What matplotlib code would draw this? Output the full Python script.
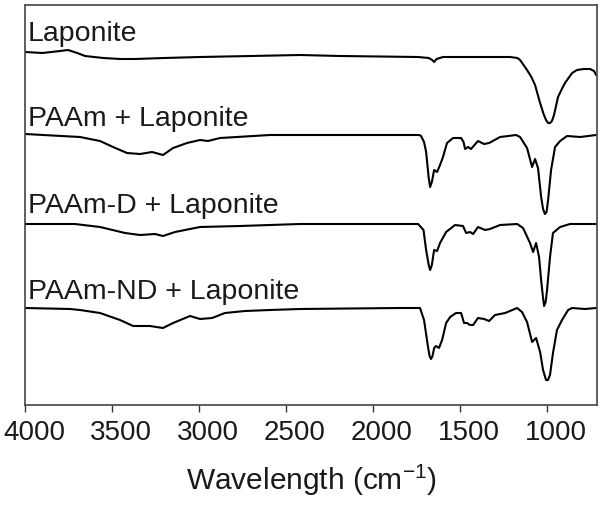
import matplotlib
matplotlib.use("Agg")
import matplotlib.pyplot as plt
from matplotlib.transforms import ScaledTranslation

plt.rcParams['font.family'] = ['Liberation Sans', 'DejaVu Sans']
plt.rcParams['mathtext.default'] = 'regular'

# Spectra (wavenumber in cm^-1, transmittance in arbitrary offset units)
lap_wn = [4000, 3900, 3799, 3753, 3700, 3655, 3550, 3454, 3368, 3200, 2994, 2700, 2420, 2190,
          1741, 1680, 1660, 1649, 1635, 1598, 1213, 1170, 1155, 1115, 1090, 1069, 1040,
          1020, 1006, 994, 983, 972, 960, 937, 915, 897, 856, 828, 790, 753, 730, 718]
lap_t = [358, 357, 359, 360, 357, 354, 352, 351, 351, 352, 353, 354, 355, 354,
         353, 352, 350, 348, 351, 353, 353, 352, 350, 340, 333, 325, 307,
         296, 290, 287, 287, 289, 295, 313, 321, 327, 337, 340, 341, 341, 339, 335]

paam_wn = [4000, 3684, 3569, 3494, 3414, 3339, 3270, 3207, 3149, 3069, 2994, 2948, 2879,
           2592, 1845, 1735, 1724, 1707, 1695, 1680, 1672, 1662, 1649, 1632, 1615, 1598,
           1575, 1540, 1494, 1480, 1471, 1454, 1437, 1397, 1362, 1333, 1270, 1178, 1155,
           1115, 1086, 1069, 1052, 1034, 1023, 1012, 1003, 994, 977, 954, 925, 885, 810, 718]
paam_t = [276, 273, 269, 263, 257, 256, 258, 255, 262, 267, 270, 269, 272,
          275, 275, 275, 274, 268, 258, 232, 223, 228, 240, 238, 245, 253,
          267, 272, 272, 268, 261, 263, 261, 269, 266, 267, 273, 275, 273,
          262, 243, 251, 242, 213, 201, 196, 198, 210, 240, 263, 269, 274, 273, 275]

paamd_wn = [4000, 3713, 3569, 3425, 3339, 3253, 3207, 3138, 2994, 2764, 2420, 1741, 1710,
            1695, 1680, 1672, 1662, 1649, 1632, 1615, 1580, 1529, 1483, 1465, 1443, 1425,
            1397, 1356, 1328, 1270, 1172, 1138, 1098, 1080, 1063, 1046, 1034, 1023, 1017,
            1008, 1000, 983, 966, 925, 868, 718]
paamd_t = [186, 186, 183, 177, 175, 176, 174, 178, 183, 184, 186, 186, 180,
           160, 145, 140, 145, 160, 159, 167, 178, 185, 184, 177, 178, 176,
           183, 180, 181, 185, 186, 182, 167, 158, 167, 153, 130, 112, 104,
           108, 120, 153, 177, 183, 186, 186]

paamnd_wn = [4000, 3741, 3684, 3569, 3454, 3379, 3282, 3207, 3149, 3052, 2994, 2925, 2851,
             2736, 2592, 2420, 1845, 1730, 1707, 1684, 1675, 1667, 1658, 1649, 1638, 1621,
             1603, 1580, 1557, 1523, 1494, 1477, 1460, 1443, 1425, 1397, 1362, 1333, 1299,
             1241, 1172, 1144, 1115, 1086, 1063, 1040, 1023, 1006, 995, 983, 966, 943, 914,
             879, 856, 782, 718]
paamnd_t = [102, 101, 100, 97, 90, 84, 84, 82, 87, 94, 91, 92, 97,
            99, 100, 101, 102, 102, 90, 63, 54, 51, 54, 62, 64, 62,
            70, 87, 93, 97, 97, 87, 87, 85, 85, 92, 91, 89, 95,
            97, 102, 98, 88, 68, 72, 58, 40, 30, 30, 35, 57, 80, 90,
            100, 102, 101, 102]

labels = ["Laponite", "PAAm + Laponite", "PAAm-D + Laponite", "PAAm-ND + Laponite"]
xticks = [4000, 3500, 3000, 2500, 2000, 1500, 1000]

fig = plt.figure(figsize=(6.01, 5.09), dpi=100)
ax = fig.add_axes([25 / 601, 1 - 405 / 509, 572 / 601, 400 / 509])

series = [(lap_wn, lap_t), (paam_wn, paam_t), (paamd_wn, paamd_t), (paamnd_wn, paamnd_t)]
for wn, t in series:
    ax.plot(wn, t, color='black', lw=1.5, solid_joinstyle='round', solid_capstyle='round')

label_y = [369, 284, 197, 111]
for lab, y in zip(labels, label_y):
    ax.text(3985, y, lab, fontsize=20.5, color='#1a1a1a', va='baseline', ha='left')

ax.set_xlim(4000, 713)
ax.set_ylim(5, 405)
ax.set_xticks(xticks)
ax.set_xticklabels([str(v) for v in xticks])
ax.set_yticks([])
ax.tick_params(axis='x', direction='out', length=5, width=1.0, labelsize=20,
               pad=6, colors='#333333', labelcolor='#1a1a1a')
shift = ScaledTranslation(9 / 100, 0, fig.dpi_scale_trans)
for lbl in ax.get_xticklabels():
    lbl.set_transform(lbl.get_transform() + shift)
for s in ax.spines.values():
    s.set_color('#444444')
    s.set_linewidth(1.2)
ax.set_xlabel("Wavelength (cm$^{-1}$)", fontsize=21.5, color='#1a1a1a', labelpad=12)

fig.savefig("out.png", dpi=100)
